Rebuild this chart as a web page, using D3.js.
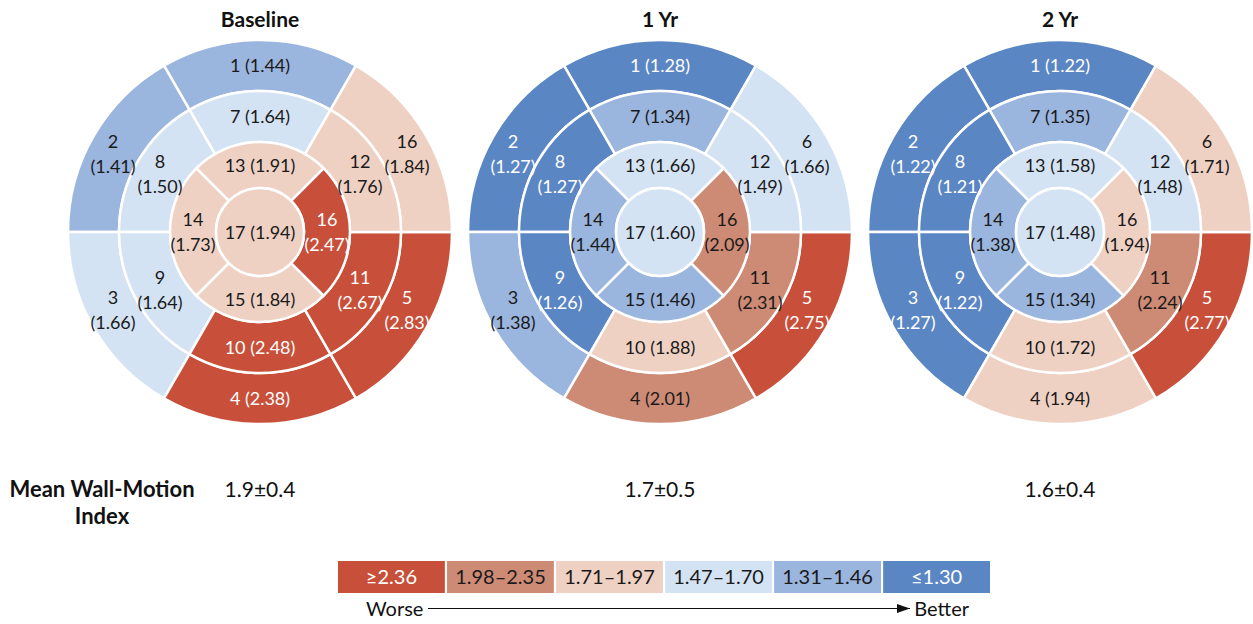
<!DOCTYPE html>
<html>
<head>
<meta charset="utf-8">
<script src="https://cdn.jsdelivr.net/npm/d3@7/dist/d3.min.js"></script>
<style>
  body { margin: 0; background: #fff; }
  text { font-family: Lato, "Open Sans", sans-serif; }
</style>
</head>
<body>
<div id="vis"></div>
<script>
// 17-segment bullseye plots, three time points

const width = 1253, height = 624;

const TITLES = ["Baseline", "1 Yr", "2 Yr"];
const MEANS  = ["1.9\u00b10.4", "1.7\u00b10.5", "1.6\u00b10.4"];

// segment values 1..17
const BASELINE = [1.44, 1.41, 1.66, 2.38, 2.83, 1.84, 1.64, 1.50, 1.64, 2.48, 2.67, 1.76, 1.91, 1.73, 1.84, 2.47, 1.94];
const YEAR1    = [1.28, 1.27, 1.38, 2.01, 2.75, 1.66, 1.34, 1.27, 1.26, 1.88, 2.31, 1.49, 1.66, 1.44, 1.46, 2.09, 1.60];
const YEAR2    = [1.22, 1.22, 1.27, 1.94, 2.77, 1.71, 1.35, 1.21, 1.22, 1.72, 2.24, 1.48, 1.58, 1.38, 1.34, 1.94, 1.48];

// segment labels (the baseline plot prints "16" on segment 6)
const BASELINE_LABELS = ["1","2","3","4","5","16","7","8","9","10","11","12","13","14","15","16","17"];
const SEG_LABELS      = ["1","2","3","4","5","6","7","8","9","10","11","12","13","14","15","16","17"];

const BIN_LABELS = ["\u22652.36", "1.98\u20132.35", "1.71\u20131.97", "1.47\u20131.70", "1.31\u20131.46", "\u22641.30"];
const BIN_COLORS = ["#c8503a", "#cd8a75", "#efd1c4", "#d4e3f3", "#9ab5de", "#5b86c4"];
const BIN_CUTS   = [1.31, 1.47, 1.71, 1.98, 2.36];

const PANELS = [BASELINE, YEAR1, YEAR2];
const PANEL_LABELS = [BASELINE_LABELS, SEG_LABELS, SEG_LABELS];

const color = d3.scaleThreshold().domain(BIN_CUTS).range(BIN_COLORS.slice().reverse());
const darkBin = c => c === BIN_COLORS[0] || c === BIN_COLORS[5];

const R = { c: 44, inner: 90, mid: 141, outer: 192 };
const cy = 232;
const deg = Math.PI / 180;

const xPanel = d3.scalePoint().domain(TITLES).range([260, 1060]);

const svg = d3.select("#vis").append("svg")
  .attr("width", width).attr("height", height)
  .attr("viewBox", [0, 0, width, height]);

const arc = d3.arc();

// build the geometry of the 17 segments
function segments(vals, labels){
  return vals.map((v, i) => {
    let r0, r1, a, span, two, tilt = 0;
    if (i < 6)       { r0 = R.mid;   r1 = R.outer; a = -60 * i;       span = 60; two = i % 3 !== 0; }
    else if (i < 12) { r0 = R.inner; r1 = R.mid;   a = -60 * (i - 6); span = 60; two = (i - 6) % 3 !== 0; }
    else if (i < 16) { r0 = R.c;     r1 = R.inner; a = -90 * (i - 12); span = 90; two = (i - 12) % 2 === 1; }
    else             { r0 = 0;       r1 = R.c;     a = 0;             span = 360; two = false; }
    // outer side labels lean a little toward the horizontal
    if (i < 6 && two) tilt = 2 * Math.sign(Math.sin(a * deg)) * Math.sign(Math.cos(a * deg));
    return {
      v, label: labels[i], two,
      innerRadius: r0, outerRadius: r1,
      startAngle: (a - span / 2) * deg, endAngle: (a + span / 2) * deg,
      lr: r0 === 0 ? 0 : (r0 + r1) / 2, la: (a + tilt) * deg
    };
  });
}

TITLES.forEach((t, p) => {
  const cx = xPanel(t);
  const g = svg.append("g").attr("transform", `translate(${cx},${cy})`);
  const segs = segments(PANELS[p], PANEL_LABELS[p]);

  g.selectAll("path").data(segs).join("path")
    .attr("d", arc)
    .attr("fill", d => color(d.v))
    .attr("stroke", "#fff")
    .attr("stroke-width", 2.5);

  const lab = g.selectAll("g.lab").data(segs).join("g")
    .attr("class", "lab")
    .attr("transform", d => `translate(${d.lr * Math.sin(d.la)},${-d.lr * Math.cos(d.la)})`);

  lab.each(function(d){
    const s = d3.select(this);
    const fill = darkBin(color(d.v)) ? "#fff" : "#1a1a1a";
    const lines = d.two ? [d.label, `(${d.v.toFixed(2)})`] : [`${d.label} (${d.v.toFixed(2)})`];
    lines.forEach((l, k) => {
      s.append("text")
        .attr("text-anchor", "middle")
        .attr("y", (k - (lines.length - 1) / 2) * 25 + 6.5)
        .attr("font-size", 18)
        .attr("fill", fill)
        .text(l);
    });
  });

  svg.append("text")
    .attr("x", cx).attr("y", 27)
    .attr("text-anchor", "middle")
    .attr("font-size", 21).attr("font-weight", 700)
    .attr("fill", "#111")
    .text(t);

  svg.append("text")
    .attr("x", cx).attr("y", 497)
    .attr("text-anchor", "middle")
    .attr("font-size", 21)
    .attr("fill", "#111")
    .text(MEANS[p]);
});

// row label
const rowLab = svg.append("text")
  .attr("text-anchor", "middle")
  .attr("font-size", 22).attr("font-weight", 700)
  .attr("fill", "#111");
rowLab.append("tspan").attr("x", 102).attr("y", 497).text("Mean Wall-Motion");
rowLab.append("tspan").attr("x", 102).attr("y", 524).text("Index");

// legend
const xLeg = d3.scaleBand().domain(BIN_LABELS).range([338, 990]).paddingInner(0.02);
const leg = svg.append("g");
leg.selectAll("rect").data(BIN_LABELS).join("rect")
  .attr("x", d => xLeg(d)).attr("y", 561)
  .attr("width", xLeg.bandwidth()).attr("height", 32)
  .attr("fill", (d, i) => BIN_COLORS[i]);
leg.selectAll("text").data(BIN_LABELS).join("text")
  .attr("x", d => xLeg(d) + xLeg.bandwidth() / 2).attr("y", 584)
  .attr("text-anchor", "middle")
  .attr("font-size", 20)
  .attr("fill", (d, i) => (i === 0 || i === 5) ? "#fff" : "#1a1a1a")
  .text(d => d);

svg.append("defs").append("marker")
  .attr("id", "arr").attr("viewBox", "0 0 10 10")
  .attr("refX", 10).attr("refY", 5)
  .attr("markerWidth", 13).attr("markerHeight", 13)
  .attr("markerUnits", "userSpaceOnUse")
  .attr("orient", "auto")
  .append("path").attr("d", "M0,1.5L10,5L0,8.5Z").attr("fill", "#111");

svg.append("text").attr("x", 366).attr("y", 615.5)
  .attr("font-size", 20).attr("fill", "#111").text("Worse");
svg.append("line")
  .attr("x1", 428).attr("x2", 910).attr("y1", 608.5).attr("y2", 608.5)
  .attr("stroke", "#111").attr("stroke-width", 1.2)
  .attr("marker-end", "url(#arr)");
svg.append("text").attr("x", 969).attr("y", 615.5)
  .attr("text-anchor", "end")
  .attr("font-size", 20).attr("fill", "#111").text("Better");
</script>
</body>
</html>
